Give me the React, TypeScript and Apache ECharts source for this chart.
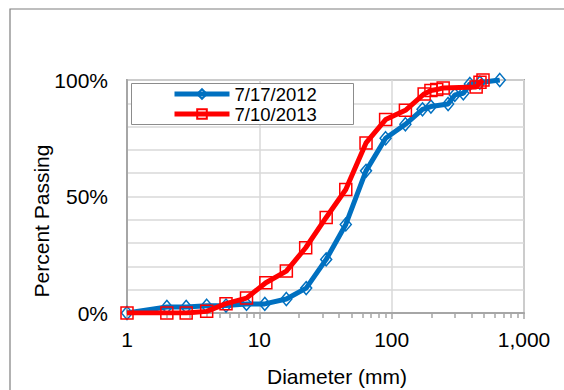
import React, { useEffect, useRef } from "react";
import * as echarts from "echarts";

const seriesNames = ["7/17/2012", "7/10/2013"];

// Diameter (mm) and percent passing
const diam2012 = [1, 2, 2.8, 4, 5.6, 8, 11, 16, 22.6, 32, 45, 64, 90, 127, 171, 198, 267, 300, 348, 390, 464, 656];
const pass2012 = [0, 2.6, 2.6, 3.1, 3.2, 3.9, 3.9, 6, 10.7, 23, 38, 61, 75, 81, 87.4, 88.6, 89.7, 93.6, 94.3, 98.3, 98.9, 100];

const diam2013 = [1, 2, 2.8, 4, 5.6, 8, 11.2, 16, 22.4, 32, 45, 64, 90, 127, 176, 198, 219, 245, 435, 465, 490];
const pass2013 = [0, 0, 0, 0.7, 4, 6.4, 13, 18, 28, 41, 53, 73, 83, 87, 94, 95.5, 95.9, 96.6, 97, 99, 100];

const xMin = 1;
const xMax = 1000;
const minorTickValues = [2, 3, 4, 5, 6, 7, 8, 9, 20, 30, 40, 50, 60, 70, 80, 90, 200, 300, 400, 500, 600, 700, 800, 900];
const yLabelValues = [0, 50, 100];

const FONT = "'Liberation Sans', Arial, sans-serif";
const GRID_LINE = "#d9d9d9";
const FRAME = "#a6a6a6";

export default function App() {
  const ref = useRef<HTMLDivElement>(null);

  useEffect(() => {
    if (!ref.current) return;
    const chart = echarts.init(ref.current, null, { renderer: "svg" });
    const zip = (xs: number[], ys: number[]) => xs.map((x, i) => [x, ys[i]]);

    chart.setOption({
      animation: false,
      backgroundColor: "#fff",
      textStyle: { fontFamily: FONT, color: "#000" },
      grid: {
        left: 127,
        right: 40,
        top: 80,
        bottom: 77,
        show: true,
        borderColor: FRAME,
        borderWidth: 2,
        backgroundColor: "transparent",
      },
      legend: {
        left: 172,
        top: 84,
        z: 10,
        orient: "vertical",
        itemWidth: 55,
        itemHeight: 12,
        itemGap: 0,
        padding: 0,
        lineStyle: { width: 5 },
        textStyle: { fontFamily: FONT, fontSize: 18.5, color: "#000", lineHeight: 20 },
        data: seriesNames,
      },
      xAxis: [
        {
          type: "log",
          logBase: 10,
          min: xMin,
          max: xMax,
          position: "bottom",
          axisLine: { show: true, lineStyle: { color: FRAME, width: 2 } },
          axisTick: { show: true, length: 6, lineStyle: { color: FRAME, width: 1.5 } },
          axisLabel: {
            fontFamily: FONT,
            fontSize: 21,
            color: "#000",
            margin: 16,
            formatter: (v: number) => Math.round(v).toLocaleString("en-US"),
          },
          splitLine: { show: true, lineStyle: { color: GRID_LINE, width: 1.5 } },
        },
        {
          type: "value",
          min: Math.log10(xMin),
          max: Math.log10(xMax),
          position: "bottom",
          axisLine: { show: false },
          axisLabel: { show: false },
          splitLine: { show: false },
          axisTick: {
            show: true,
            length: 5,
            customValues: minorTickValues.map((v) => Math.log10(v)),
            lineStyle: { color: FRAME, width: 1.5 },
          },
        },
      ],
      yAxis: {
        type: "value",
        min: 0,
        max: 100,
        interval: 10,
        axisLine: { show: true, lineStyle: { color: FRAME, width: 2 } },
        axisTick: { show: false },
        axisLabel: {
          fontFamily: FONT,
          fontSize: 21,
          color: "#000",
          margin: 19,
          formatter: (v: number) => (yLabelValues.includes(v) ? v + "%" : ""),
        },
        splitLine: { show: true, lineStyle: { color: GRID_LINE, width: 1.5 } },
      },
      graphic: [
        {
          type: "rect",
          silent: true,
          z: 100,
          shape: { x: 10, y: 9, width: 700, height: 500 },
          style: { fill: "none", stroke: "#7f7f7f", lineWidth: 1.2 },
        },
        {
          type: "rect",
          silent: true,
          z: 5,
          shape: { x: 131.5, y: 83.5, width: 222, height: 41 },
          style: { fill: "#fff", stroke: "#8c8c8c", lineWidth: 1 },
        },
        {
          type: "text",
          x: 41,
          y: 221,
          rotation: Math.PI / 2,
          style: {
            text: "Percent Passing",
            fontFamily: FONT,
            fontSize: 21,
            fill: "#000",
            align: "center",
            verticalAlign: "middle",
          },
        },
        {
          type: "text",
          x: 337,
          y: 376,
          style: {
            text: "Diameter (mm)",
            fontFamily: FONT,
            fontSize: 21,
            fill: "#000",
            align: "center",
            verticalAlign: "middle",
          },
        },
      ],
      series: [
        {
          name: seriesNames[0],
          type: "line",
          data: zip(diam2012, pass2012),
          symbol: "diamond",
          symbolSize: [11, 13],
          lineStyle: { color: "#0070C0", width: 5 },
          itemStyle: { color: "rgba(255,255,255,0)", borderColor: "#0070C0", borderWidth: 1.5 },
          z: 3,
        },
        {
          name: seriesNames[1],
          type: "line",
          data: zip(diam2013, pass2013),
          symbol: "rect",
          symbolSize: 12,
          lineStyle: { color: "#FF0000", width: 5 },
          itemStyle: { color: "rgba(255,255,255,0)", borderColor: "#FF0000", borderWidth: 1.5 },
          z: 4,
        },
      ],
    });

    return () => chart.dispose();
  }, []);

  return (
    <div
      ref={ref}
      style={{ position: "absolute", left: 0, top: 0, width: 564, height: 390 }}
    />
  );
}
